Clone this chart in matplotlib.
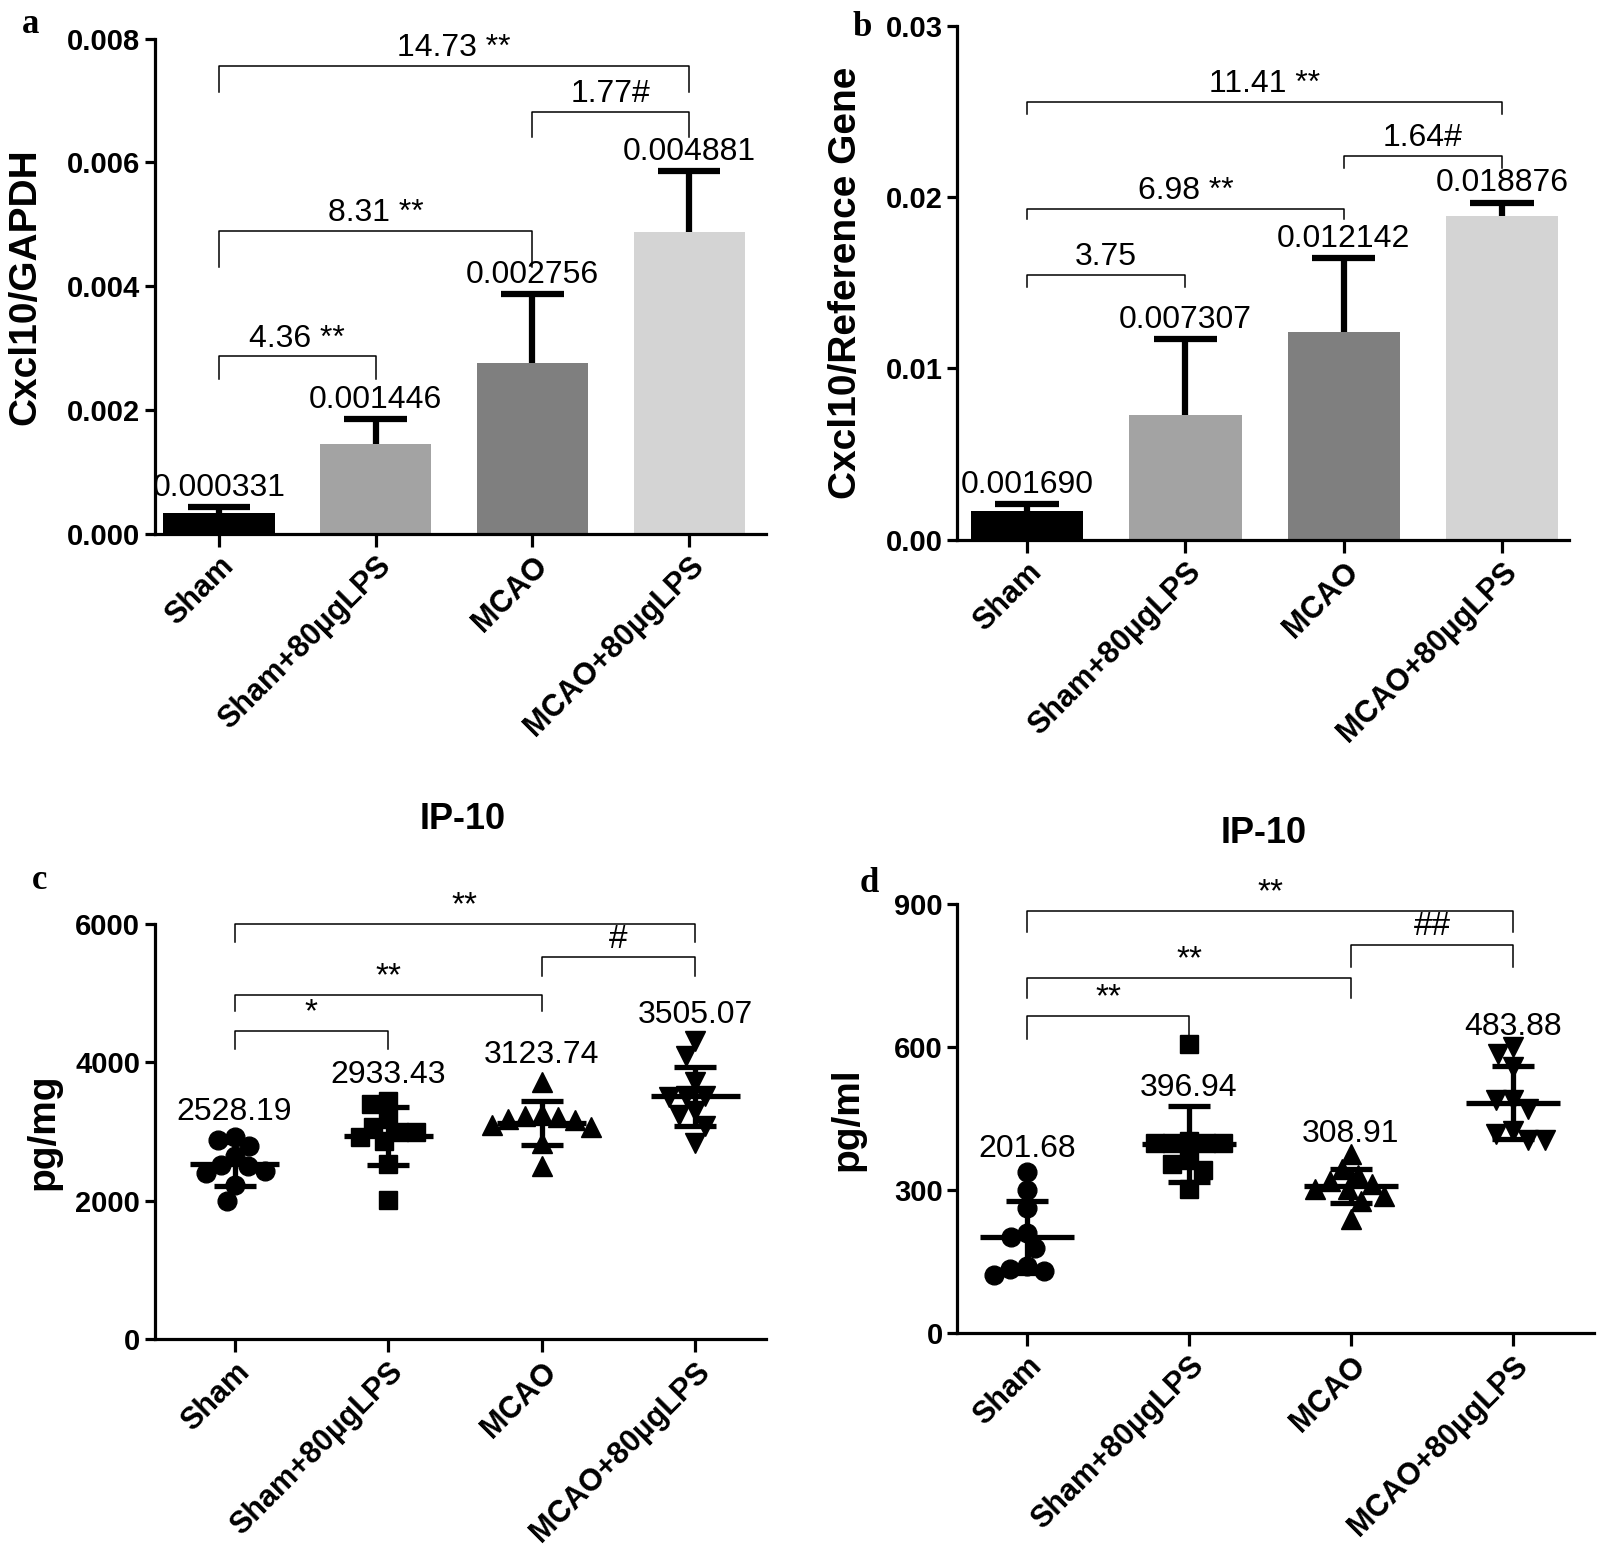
import numpy as np
import matplotlib
matplotlib.use("Agg")
import matplotlib.pyplot as plt

plt.rcParams['font.family'] = ['Liberation Sans', 'DejaVu Sans']

groups = ['Sham', 'Sham+80µgLPS', 'MCAO', 'MCAO+80µgLPS']

# panel a/b: qPCR bars (mean, upper error)
a_mean = [0.000331, 0.001446, 0.002756, 0.004881]
a_err = [0.00010, 0.00040, 0.00112, 0.00098]
b_mean = [0.001690, 0.007307, 0.012142, 0.018876]
b_err = [0.0004, 0.0044, 0.0043, 0.0008]
a_labels = ['0.000331', '0.001446', '0.002756', '0.004881']
b_labels = ['0.001690', '0.007307', '0.012142', '0.018876']

# panel c: IP-10 pg/mg, individual animals
c_sham = [2916, 2880, 2790, 2650, 2510, 2506, 2434, 2395, 2220, 2000]
c_lps = [3440, 3398, 3181, 3060, 2988, 2988, 2916, 2857, 2530, 2010]
c_mcao = [3711, 3253, 3229, 3205, 3180, 3160, 3100, 3060, 2830, 2500]
c_mcaolps = [4300, 4096, 3720, 3518, 3518, 3494, 3290, 3240, 3084, 2830]
c_mean = [2528.19, 2933.43, 3123.74, 3505.07]
c_sd = [320, 420, 315, 430]

# panel d: IP-10 pg/ml
d_sham = [338, 301, 262, 210, 201, 178, 140, 134, 131, 122]
d_lps = [607, 403, 399, 399, 399, 399, 363, 356, 342, 303]
d_mcao = [375, 345, 332, 320, 313, 302, 302, 288, 278, 240]
d_mcaolps = [600, 585, 558, 489, 489, 471, 424, 417, 406, 406]
d_mean = [201.68, 396.94, 308.91, 483.88]
d_sd = [75, 79, 36, 76]

bar_colors = ['black', '#a3a3a3', '#7f7f7f', '#d4d4d4']
markers = ['o', 's', '^', 'v']
msizes = [13.5, 12.5, 14.5, 14.5]

# brackets: (left group, right group, bar height, leg end, text)
a_brackets = [(0, 1, 0.002864, 0.002502, '4.36 **'),
              (0, 2, 0.004888, 0.004313, '8.31 **'),
              (2, 3, 0.006814, 0.006419, '1.77#'),
              (0, 3, 0.007555, 0.007144, '14.73 **')]
b_brackets = [(0, 1, 0.01545, 0.01473, '3.75'),
              (0, 2, 0.01931, 0.01871, '6.98 **'),
              (2, 3, 0.02240, 0.02168, '1.64#'),
              (0, 3, 0.02554, 0.02483, '11.41 **')]
c_brackets = [(0, 1, 4454, 4190, '*'),
              (0, 2, 4969, 4733, '**'),
              (2, 3, 5513, 5248, '#'),
              (0, 3, 5990, 5733, '**')]
d_brackets = [(0, 1, 665, 617, '**'),
              (0, 2, 746, 703, '**'),
              (2, 3, 815, 768, '##'),
              (0, 3, 885, 842, '**')]
c_label_y = [3285, 3820, 4108, 4686]
d_label_y = [387, 515, 419, 643]


def style(ax, yticks, yfmt, ylabel, labx):
    for s in ['top', 'right']:
        ax.spines[s].set_visible(False)
    for s in ['left', 'bottom']:
        ax.spines[s].set_linewidth(2.3)
    ax.tick_params(axis='y', width=2.3, length=7)
    ax.tick_params(axis='x', width=2.3, length=9)
    ax.set_yticks(yticks, [yfmt.format(t) for t in yticks], fontsize=21, fontweight='bold')
    ax.set_xticks(range(4), groups, rotation=45, ha='right', va='top',
                  rotation_mode='anchor', fontsize=22, fontweight='bold')
    ax.set_ylabel(ylabel, fontsize=28, fontweight='bold')
    ax.yaxis.set_label_coords(labx, 0.5)


def brackets(ax, spec, fs):
    for i, j, y, leg, txt in spec:
        ax.plot([i, i, j, j], [leg, y, y, leg], color='black', lw=1.1,
                clip_on=False, zorder=4)
        ax.annotate(txt, ((i + j) / 2, y), xytext=(0, 2), textcoords='offset points',
                    ha='center', va='bottom', fontsize=fs, annotation_clip=False)


def bar_panel(ax, means, errs, labels):
    x = np.arange(4)
    means = np.array(means)
    tops = means + np.array(errs)
    ax.bar(x, means, width=0.71, color=bar_colors, zorder=2)
    ax.vlines(x, means, tops, color='black', lw=4.5, zorder=3)
    ax.hlines(tops, x - 0.2, x + 0.2, color='black', lw=4.5, zorder=3)
    for xi, t, lab in zip(x, tops, labels):
        ax.annotate(lab, (xi, t), xytext=(0, 3), textcoords='offset points',
                    ha='center', va='bottom', fontsize=23)


def swarm(ax, xc, vals, d):
    # simple beeswarm: push points sideways until they stop overlapping
    tr = ax.transData.transform
    x0, y0 = tr((0, 0))
    sx = tr((1, 0))[0] - x0
    sy = tr((0, 1))[1] - y0
    ys = np.asarray(vals, dtype=float) * sy
    placed = []
    out = np.zeros(len(ys))
    for k in np.argsort(-ys):
        cands = [0.0]
        for px, py in placed:
            dy = ys[k] - py
            if abs(dy) < d:
                dx = np.sqrt(d * d - dy * dy)
                cands += [px - dx, px + dx]
        cands.sort(key=abs)
        for c in cands:
            if all((c - px) ** 2 + (ys[k] - py) ** 2 >= d * d - 1e-6 for px, py in placed):
                break
        placed.append((c, ys[k]))
        out[k] = xc + c / sx
    return out


def scatter_panel(ax, data, means, sds, label_y):
    for i, pts in enumerate(data):
        xs = swarm(ax, i, pts, 17.0)
        ax.plot(xs, pts, ls='none', marker=markers[i], ms=msizes[i],
                color='black', zorder=2)
        ax.hlines(means[i], i - 0.29, i + 0.29, color='black', lw=3.8, zorder=3)
        ax.errorbar(i, means[i], yerr=sds[i], fmt='none', ecolor='black',
                    elinewidth=3.8, capsize=15, capthick=3.8, zorder=3)
        ax.text(i, label_y[i], f'{means[i]:.2f}', ha='center', va='center', fontsize=23)


fig = plt.figure(figsize=(15.97, 15.48), dpi=100)

ax_a = fig.add_axes([0.0969, 0.6553, 0.3827, 0.3197])
ax_a.set_xlim(-0.41, 3.49)
ax_a.set_ylim(0, 0.008)
style(ax_a, [0, 0.002, 0.004, 0.006, 0.008], '{:.3f}', 'Cxcl10/GAPDH', -0.182)
bar_panel(ax_a, a_mean, a_err, a_labels)
brackets(ax_a, a_brackets, 23)

ax_b = fig.add_axes([0.5995, 0.6513, 0.3827, 0.3322])
ax_b.set_xlim(-0.44, 3.42)
ax_b.set_ylim(0, 0.03)
style(ax_b, [0, 0.01, 0.02, 0.03], '{:.2f}', 'Cxcl10/Reference Gene', -0.153)
bar_panel(ax_b, b_mean, b_err, b_labels)
brackets(ax_b, b_brackets, 23)

ax_c = fig.add_axes([0.0969, 0.1349, 0.3827, 0.2684])
ax_c.set_xlim(-0.52, 3.46)
ax_c.set_ylim(0, 6000)
style(ax_c, [0, 2000, 4000, 6000], '{:d}', 'pg/mg', -0.153)
scatter_panel(ax_c, [c_sham, c_lps, c_mcao, c_mcaolps], c_mean, c_sd, c_label_y)
brackets(ax_c, c_brackets, 24)

ax_d = fig.add_axes([0.5995, 0.1388, 0.3986, 0.277])
ax_d.set_xlim(-0.43, 3.5)
ax_d.set_ylim(0, 900)
style(ax_d, [0, 300, 600, 900], '{:d}', 'pg/ml', -0.144)
scatter_panel(ax_d, [d_sham, d_lps, d_mcao, d_mcaolps], d_mean, d_sd, d_label_y)
brackets(ax_d, d_brackets, 24)

fig.text(0.290, 0.4704, 'IP-10', ha='center', va='center', fontsize=26, fontweight='bold')
fig.text(0.791, 0.4618, 'IP-10', ha='center', va='center', fontsize=26, fontweight='bold')

serif = ['Liberation Serif', 'DejaVu Serif']
for x, y, t in [(0.014, 0.995, 'a'), (0.534, 0.993, 'b'),
                (0.020, 0.442, 'c'), (0.538, 0.440, 'd')]:
    fig.text(x, y, t, ha='left', va='top', fontsize=25, fontweight='bold', family=serif)

fig.savefig('out.png', dpi=100)
